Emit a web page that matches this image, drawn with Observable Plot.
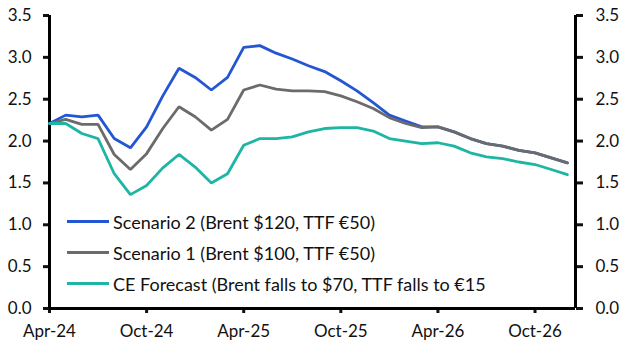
<!DOCTYPE html>
<html>
<head>
<meta charset="utf-8">
<script src="https://cdn.jsdelivr.net/npm/d3@7"></script>
<script src="https://cdn.jsdelivr.net/npm/@observablehq/plot@0.6"></script>
<style>
  html, body { margin: 0; padding: 0; background: #fff; }
  #wrap { position: relative; width: 629px; height: 354px; font-family: Lato, "Open Sans", sans-serif; }
  #legend { position: absolute; left: 67px; top: 206px; font-size: 18px; color: #111; }
  .row { display: flex; align-items: center; height: 31px; white-space: nowrap; }
  .sw { width: 42px; height: 3px; margin-right: 4px; }
</style>
</head>
<body>
<div id="wrap"><div id="legend"></div></div>
<script>
// Months from Apr-24 (index 0) to Dec-26 (index 32)
const months = ["Apr-24","May-24","Jun-24","Jul-24","Aug-24","Sep-24","Oct-24","Nov-24","Dec-24",
  "Jan-25","Feb-25","Mar-25","Apr-25","May-25","Jun-25","Jul-25","Aug-25","Sep-25","Oct-25","Nov-25","Dec-25",
  "Jan-26","Feb-26","Mar-26","Apr-26","May-26","Jun-26","Jul-26","Aug-26","Sep-26","Oct-26","Nov-26","Dec-26"];

const scenario2 = [2.21,2.31,2.29,2.31,2.03,1.92,2.17,2.54,2.87,2.76,2.61,2.76,3.12,3.14,3.05,2.98,2.90,2.83,2.72,2.60,2.46,2.31,2.24,2.17,2.17,2.11,2.03,1.97,1.94,1.89,1.86,1.80,1.74];
const scenario1 = [2.21,2.26,2.20,2.20,1.84,1.66,1.85,2.15,2.41,2.29,2.13,2.26,2.61,2.67,2.62,2.60,2.60,2.59,2.54,2.47,2.39,2.28,2.21,2.16,2.17,2.11,2.03,1.97,1.94,1.89,1.86,1.80,1.74];
const ceForecast = [2.21,2.21,2.09,2.03,1.61,1.36,1.47,1.68,1.84,1.69,1.50,1.61,1.95,2.03,2.03,2.05,2.11,2.15,2.16,2.16,2.12,2.03,2.00,1.97,1.98,1.94,1.86,1.81,1.79,1.75,1.72,1.66,1.60];

const seriesNames = ["Scenario 2 (Brent $120, TTF €50)", "Scenario 1 (Brent $100, TTF €50)", "CE Forecast (Brent falls to $70, TTF falls to €15"];
const seriesColors = ["#2356d3", "#6b6b6b", "#1db5a4"];
const seriesValues = [scenario2, scenario1, ceForecast];

const xTickIdx = [0, 6, 12, 18, 24, 30];
const xTickLabels = ["Apr-24","Oct-24","Apr-25","Oct-25","Apr-26","Oct-26"];
const yTicks = [0, 0.5, 1.0, 1.5, 2.0, 2.5, 3.0, 3.5];

const data = [];
seriesValues.forEach((vals, s) => vals.forEach((v, i) => data.push({series: seriesNames[s], i, v})));

const xMax = 32.5;

const chart = Plot.plot({
  width: 629,
  height: 354,
  marginLeft: 49,
  marginRight: 54,
  marginTop: 15,
  marginBottom: 46,
  style: {fontFamily: "Lato, 'Open Sans', sans-serif", fontSize: "17px", color: "#111", background: "white"},
  x: {domain: [0, xMax]},
  y: {domain: [0, 3.5]},
  color: {domain: seriesNames, range: seriesColors},
  marks: [
    Plot.axisY({anchor: "left", ticks: yTicks, tickFormat: d => d.toFixed(1), tickSize: 6, tickPadding: 12, strokeWidth: 3, label: null}),
    Plot.axisY({anchor: "right", ticks: yTicks, tickFormat: d => d.toFixed(1), tickSize: 7, tickPadding: 13, strokeWidth: 3, label: null}),
    Plot.axisX({ticks: xTickIdx, tickFormat: (d) => xTickLabels[xTickIdx.indexOf(d)], tickSize: 5, tickPadding: 11, strokeWidth: 3, label: null}),
    Plot.ruleY([0], {stroke: "black", strokeWidth: 3}),
    Plot.ruleX([0, xMax], {stroke: "black", strokeWidth: 3}),
    Plot.line(data, {x: "i", y: "v", z: "series", stroke: "series", strokeWidth: 2.8, strokeLinejoin: "miter"})
  ]
});

const wrap = document.getElementById("wrap");
wrap.insertBefore(chart, wrap.firstChild);

const legend = document.getElementById("legend");
seriesNames.forEach((n, k) => {
  const row = document.createElement("div");
  row.className = "row";
  const sw = document.createElement("span");
  sw.className = "sw";
  sw.style.background = seriesColors[k];
  const t = document.createElement("span");
  t.textContent = n;
  row.appendChild(sw); row.appendChild(t);
  legend.appendChild(row);
});
</script>
</body>
</html>
